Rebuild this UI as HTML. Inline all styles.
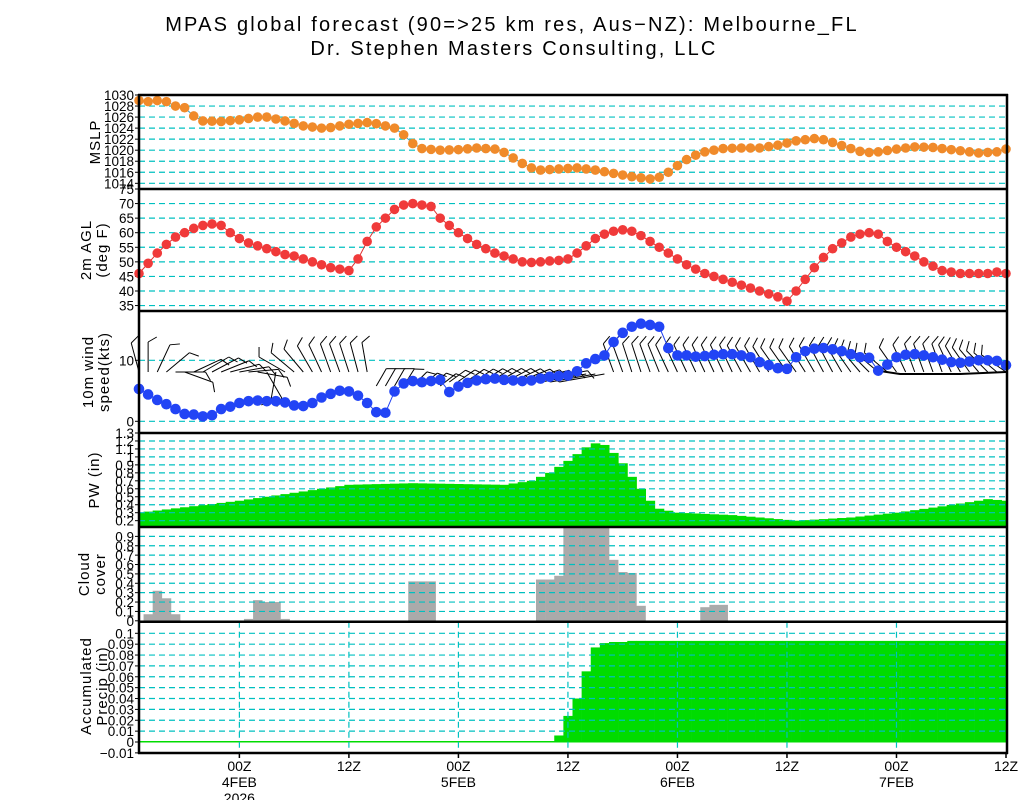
<!DOCTYPE html>
<html><head><meta charset="utf-8"><style>
html,body{margin:0;padding:0;background:#fff;}
svg{display:block;font-family:"Liberation Sans",sans-serif;}
</style></head><body>
<svg id="s" width="1024" height="800" viewBox="0 0 1024 800" xmlns="http://www.w3.org/2000/svg">
<rect width="1024" height="800" fill="#fff"/>
<text x="512" y="31" font-size="20" text-anchor="middle" letter-spacing="2.2">MPAS global forecast (90=&gt;25 km res, Aus−NZ): Melbourne_FL</text>
<text x="514" y="55" font-size="20" text-anchor="middle" letter-spacing="2.2">Dr. Stephen Masters Consulting, LLC</text>
<g id="g"></g>
</svg>
<script>
const NS="http://www.w3.org/2000/svg";
const G=document.getElementById('g');
function el(t,a,txt){const e=document.createElementNS(NS,t);for(const k in a)e.setAttribute(k,a[k]);if(txt!==undefined)e.textContent=txt;G.appendChild(e);return e;}
const X0=139,X1=1006,DX=(X1-X0)/95;
const xh=h=>X0+h*DX;
function interp(kf){const out=[];for(let h=0;h<96;h++){let i=0;while(i<kf.length-2&&kf[i+1][0]<=h)i++;const a=kf[i],b=kf[i+1];const t=(h-a[0])/(b[0]-a[0]);out.push(a[1]+(b[1]-a[1])*Math.max(0,Math.min(1,t)));}return out;}
function P(top,bot,vTop,vPer,perPx){return v=>top+(vTop-v)/vPer*perPx;}
const GRID="#00c0c0";
function hgrid(y){el('line',{x1:X0,x2:X1,y1:y,y2:y,stroke:GRID,'stroke-width':1.2,'stroke-dasharray':'6,4'});}
function ylab(y,t){el('text',{x:134,y:y+5,'font-size':13.5,'text-anchor':'end'},t);el('line',{x1:135,x2:139,y1:y,y2:y,stroke:'#000'});}
function vlab(cx,cy,lines){const t=el('text',{transform:`translate(${cx},${cy}) rotate(-90)`,'font-size':15,'text-anchor':'middle','letter-spacing':'1'});lines.forEach((l,i)=>{const s=document.createElementNS(NS,'tspan');s.setAttribute('x',0);s.setAttribute('dy',i==0?(-(lines.length-1)*8+5):16);s.textContent=l;t.appendChild(s);});}

// ---------- MSLP
const ym=P(95,189,1030,2,11.04);
for(let v=1014;v<=1028;v+=2)hgrid(ym(v));
for(let v=1014;v<=1030;v+=2)ylab(ym(v),v);
vlab(95,142,['MSLP']);
const mslp=interp([[0,1029],[1,1028.8],[2,1029],[3,1028.8],[4,1028],[5,1027.7],[6,1026.2],[7,1025.3],[9,1025.2],[11,1025.5],[13,1026],[14,1026],[16,1025.3],[18,1024.4],[20,1024],[21,1024.1],[23,1024.7],[25,1025],[26,1024.8],[28,1024],[29,1022.8],[30,1021.2],[31,1020.3],[33,1020],[35,1020.1],[37,1020.4],[39,1020.2],[40,1019.6],[41,1018.6],[42,1017.6],[43,1016.8],[44,1016.4],[46,1016.6],[48,1016.8],[50,1016.4],[52,1015.8],[54,1015.2],[56,1014.8],[57,1015.1],[58,1016],[59,1017.2],[60,1018.3],[61,1019.1],[62,1019.7],[64,1020.3],[66,1020.4],[68,1020.4],[70,1020.9],[72,1021.7],[74,1022.1],[75,1021.9],[76,1021.4],[78,1020.3],[79,1019.8],[80,1019.6],[81,1019.7],[83,1020.2],[85,1020.6],[87,1020.5],[89,1020.1],[91,1019.7],[92,1019.5],[94,1019.7],[95,1020.2]]);
el('polyline',{points:mslp.map((v,h)=>xh(h)+','+ym(v)).join(' '),fill:'none',stroke:'#3aa0c8','stroke-width':1});
mslp.forEach((v,h)=>el('circle',{cx:xh(h),cy:ym(v),r:4.8,fill:'#f08a2a'}));

// ---------- Temp
const yt=P(189,311,75,5,14.57);
for(let v=35;v<=70;v+=5)hgrid(yt(v));
for(let v=35;v<=75;v+=5)ylab(yt(v),v);
vlab(94,250,['2m  AGL','(deg  F)']);
const temp=[46,49.5,53,56,58.5,60,61.5,62.5,63,62.5,60,58,56.5,55.5,54.5,53.5,52.5,52,51,50,49,48,47.5,47,51,57,62,65,68,69.5,70,69.5,69,65,62.5,60,58,56,54.5,53,52,51,50,49.8,50,50.3,50.5,51,53,55.5,58,59.5,60.5,61,60.5,59,57,55,53,51,49,47.5,46,45,44,43,42,41,40,39,38,36.5,40,44,48,51.5,54.5,56.5,58.5,59.5,60,59.5,57,55,53.5,52,50,48.5,47,46.5,46,46,46,46,46.5,46];
el('polyline',{points:temp.map((v,h)=>xh(h)+','+yt(v)).join(' '),fill:'none',stroke:'#e03030','stroke-width':1});
temp.forEach((v,h)=>el('circle',{cx:xh(h),cy:yt(v),r:4.8,fill:'#f03a3a'}));

// ---------- Wind
const yw=v=>421.3-v*6.1;
hgrid(yw(0));hgrid(yw(10));
ylab(yw(0),0);ylab(yw(10),10);
vlab(96,372,['10m  wind','speed(kts)']);
const ang=[-105,-90,-65,-40,0,20,-25,-30,-28,-22,-15,-10,-5,10,60,100,-150,-140,-130,-120,-115,-110,-110,-108,-105,-100,
-60,-60,-60,-58,-45,-40,-40,-38,-36,-35,-35,-34,-33,-32,-30,-28,-25,-22,-18,-15,-12,-10,165,160,155,150,-110,-110,-108,-108,-110,-112,-115,-115,-115,-115,-115,-115,-115,-115,-118,-120,-120,-122,-125,-125,-125,-122,-120,-118,-118,-120,-125,-130,-135,-140,-140,-125,-115,-110,-110,-110,-110,-115,-120,-125,-130,-135,-140,-145];
const by=h=>h<26?372:(h<48?(h<34?386:382-(h-34)*0.6):(h<52?374:372));
for(let h=0;h<96;h++){
  const a=ang[h]*Math.PI/180;const L=(h>=26&&h<48)?20:(h>=48&&h<52?50:30);
  const bx=xh(h),byy=by(h);
  let ex=bx+L*Math.cos(a),ey=byy+L*Math.sin(a);
  if(h>=48&&h<52){ex=bx-L*0.9;ey=byy+8;}
  el('line',{x1:bx,y1:byy,x2:ex,y2:ey,stroke:'#000','stroke-width':1});
  const fa=a+Math.PI/3;
  el('line',{x1:ex,y1:ey,x2:ex+10*Math.cos(fa),y2:ey+10*Math.sin(fa),stroke:'#000','stroke-width':1});
}
el('polyline',{points:'880,371 900,374 960,374 1006,372',fill:'none',stroke:'#000','stroke-width':2});
const wind=[5.3,4.4,3.5,2.8,2,1.2,1.1,0.8,1.0,2,2.4,3,3.3,3.4,3.3,3.3,3.1,2.6,2.5,3,3.9,4.5,5,4.9,4.2,3,1.5,1.4,4.9,6.2,6.6,6.4,6.6,6.8,4.8,5.7,6.3,6.7,6.9,7,6.8,6.7,6.6,6.7,7,7.3,7.4,7.5,8.2,9.5,10.2,10.8,13,14.5,15.5,16,15.8,15.5,12,10.8,10.8,10.6,10.7,10.9,11,11,10.8,10.5,9.7,9.2,8.7,8.6,10.5,11.5,11.9,12,11.8,11.5,11,10.5,10.4,8.3,9.3,10.5,10.9,11,10.8,10.5,10.1,9.7,9.6,9.8,10,10,9.9,9.2];
el('polyline',{points:wind.map((v,h)=>xh(h)+','+yw(v)).join(' '),fill:'none',stroke:'#2040f0','stroke-width':1});
wind.forEach((v,h)=>el('circle',{cx:xh(h),cy:yw(v),r:5.3,fill:'#2244f5'}));

// ---------- PW
const yp=P(433,527,1.3,0.1,7.97);
const pw=interp([[0,0.3],[11,0.45],[17,0.55],[23,0.65],[30,0.67],[35,0.66],[40,0.65],[43,0.7],[45,0.8],[47,0.95],[49,1.12],[50,1.17],[51,1.15],[52,1.05],[53,0.92],[54,0.75],[55,0.6],[56,0.45],[57,0.35],[59,0.3],[65,0.27],[70,0.22],[72,0.2],[78,0.24],[83,0.3],[88,0.38],[92,0.45],[93,0.47],[95,0.45]]);
pw.forEach((v,h)=>{const x0=Math.max(X0,xh(h)-DX/2),x1=Math.min(X1,xh(h)+DX/2);el('rect',{x:x0,y:yp(v),width:x1-x0+0.5,height:527-yp(v),fill:'#00dc00'});});
for(let i=2;i<=12;i++)hgrid(yp(i/10));
for(let i=2;i<=13;i++)ylab(yp(i/10),i==10?'1':(i/10).toFixed(1));
vlab(94,480,['PW  (in)']);

// ---------- Cloud
const yc=P(527,621.7,1.0,0.1,9.38);
const cl={1:.07,2:.32,3:.24,4:.07,12:.02,13:.22,14:.2,15:.2,16:.02,30:.42,31:.42,32:.42,44:.44,45:.44,46:.48,47:1,48:1,49:1,50:1,51:1,52:.65,53:.52,54:.51,55:.16,62:.145,63:.17,64:.17};
for(const h in cl){const v=cl[h];el('rect',{x:xh(+h)-DX/2,y:yc(v),width:DX+0.3,height:621.7-yc(v),fill:'#aaaaaa'});}
for(let i=1;i<=9;i++)hgrid(yc(i/10));
for(let i=0;i<=9;i++)ylab(yc(i/10),i==0?'0':(i/10).toFixed(1));
vlab(92,574,['Cloud','cover']);

// ---------- Precip
const yr2=v=>742-v*1087;
const pr={46:.006,47:.024,48:.04,49:.065,50:.087,51:.091,52:.092,53:.092};
el('rect',{x:X0,y:741,width:X1-X0,height:1.5,fill:'#00dc00'});
for(let h=46;h<=95;h++){const v=pr[h]!==undefined?pr[h]:0.093;const x0=xh(h)-DX/2,x1=Math.min(X1,xh(h)+DX/2);el('rect',{x:x0,y:yr2(v),width:x1-x0+0.3,height:742-yr2(v),fill:'#00dc00'});}
for(let i=-1;i<=10;i++){if(i!=0)hgrid(yr2(i/100));}
for(let i=-1;i<=10;i++)ylab(yr2(i/100),i==0?'0':(i==10?'0.1':(i<0?'−0.01':'0.0'+i)));
vlab(94,686,['Accumulated','Precip  (in)']);
const labs=[['00Z','4FEB','2026'],['12Z'],['00Z','5FEB'],['12Z'],['00Z','6FEB'],['12Z'],['00Z','7FEB'],['12Z']];
labs.forEach((l,i)=>{const x=xh(11+12*i);
 if(i<7)el('line',{x1:x,x2:x,y1:621.7,y2:753,stroke:GRID,'stroke-width':1.2,'stroke-dasharray':'6,4'});
 el('line',{x1:x,x2:x,y1:753,y2:758,stroke:'#000','stroke-width':1.5});
 l.forEach((t,j)=>el('text',{x:x,y:771+j*16,'font-size':14,'text-anchor':'middle'},t));});

// ---------- frames
[95,189,311,433,527,621.7,753].forEach(y=>el('line',{x1:X0-1,x2:X1+2,y1:y,y2:y,stroke:'#000','stroke-width':2.5}));
el('line',{x1:X0,x2:X0,y1:94,y2:754,stroke:'#000','stroke-width':2.5});
el('line',{x1:X1+1,x2:X1+1,y1:94,y2:754,stroke:'#000','stroke-width':2.5});
</script>
</body></html>
